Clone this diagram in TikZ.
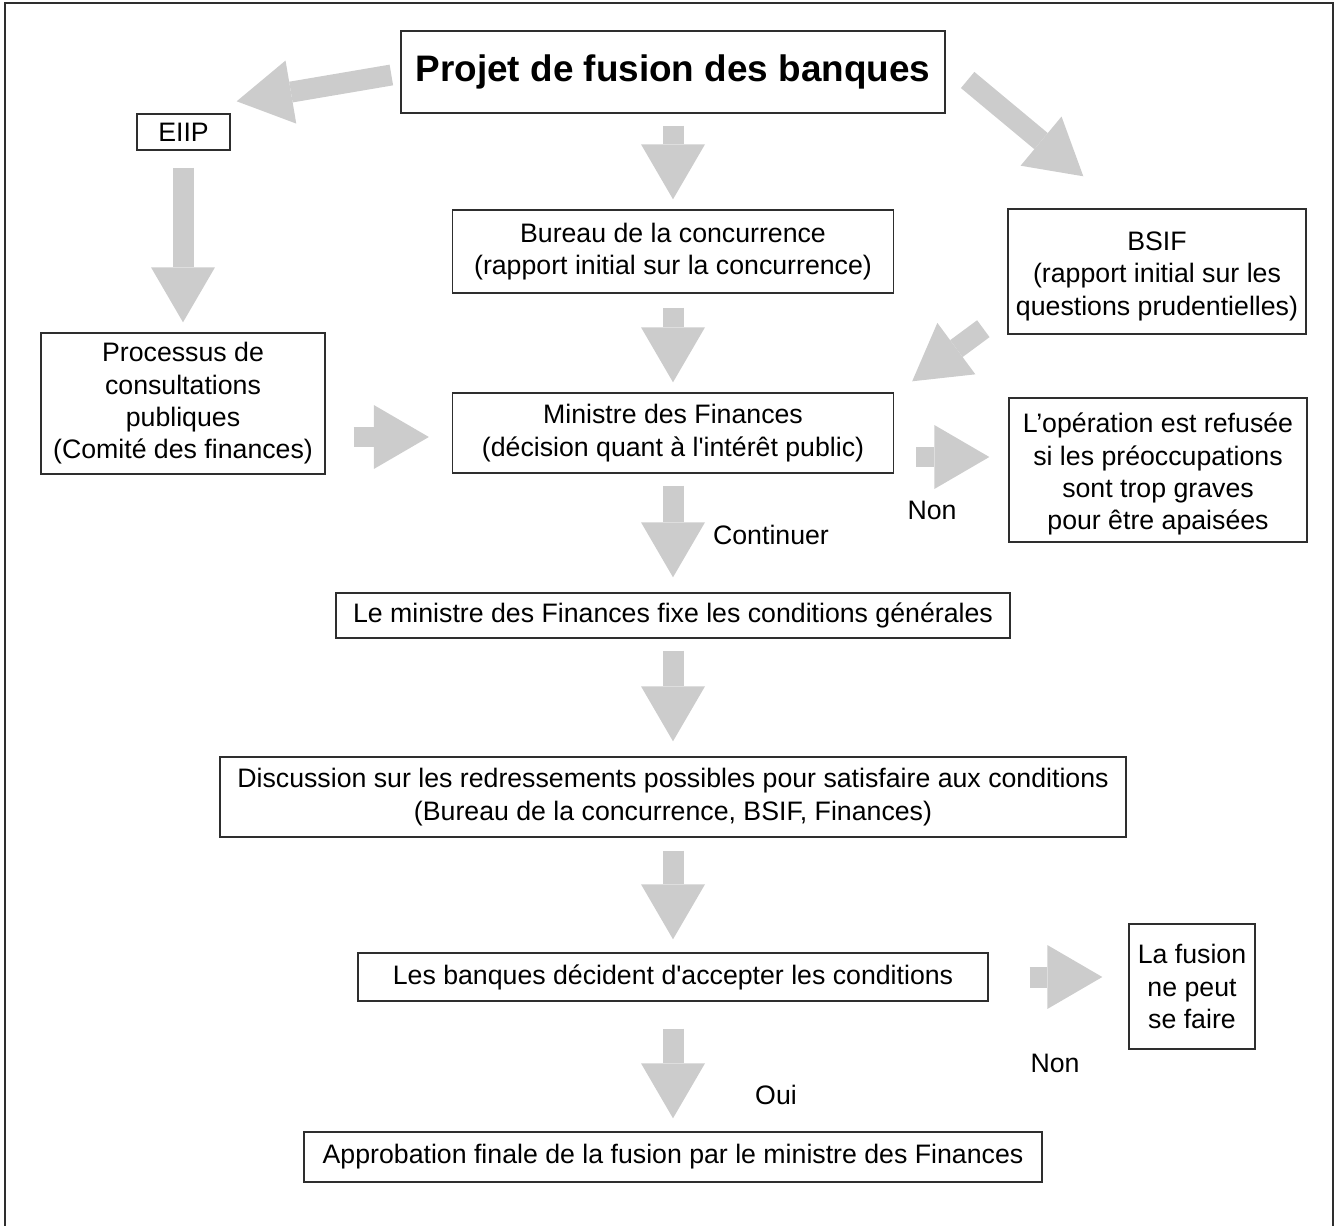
\documentclass[tikz,border=0pt]{standalone}
\usepackage{fontspec}
\setmainfont{Liberation Sans}
\usepackage{xcolor}
\definecolor{ink}{HTML}{000000}
\definecolor{boxline}{HTML}{2E2E2E}
\definecolor{arrowgray}{HTML}{CCCCCC}
\usetikzlibrary{positioning,arrows.meta,calc}
\tikzset{
  blk/.style={draw=boxline,line width=0.8pt,fill=white,align=center,inner sep=0pt,text=ink,
    font=\fontsize{15.2}{18.4}\selectfont},
  blkt/.style={blk,font=\fontsize{21}{25}\selectfont\bfseries},
  fat/.style={draw=arrowgray,line width=0.42cm,
    -{Triangle[length=1.1cm,width=1.28cm,line width=0pt]}},
  lbl/.style={font=\fontsize{15.2}{18.4}\selectfont,text=ink},
}

\begin{document}
\begin{tikzpicture}[x=0.02cm,y=-0.02cm]
  \useasboundingbox (0,0) rectangle (1339,1226);
  % outer frame
  \draw[boxline,line width=1.1pt] (5,1226) -- (5,3) -- (1333,3) -- (1333,1226);
  % boxes
  \node[blkt,minimum width=10.88cm,minimum height=1.64cm] (title) at (673,72) {Projet de fusion des banques};
  \node[blk,minimum width=1.86cm,minimum height=0.72cm] (eiip) at (183.5,132) {EIIP};
  \node[blk,minimum width=8.82cm,minimum height=1.66cm] (bureau) at (673,251.5) {Bureau de la concurrence\\(rapport initial sur la concurrence)};
  \node[blk,minimum width=5.96cm,minimum height=2.5cm] (bsif) at (1157,271.5) {\rule{0pt}{16pt}BSIF\\(rapport initial sur les\\questions prudentielles)};
  \node[blk,minimum width=5.68cm,minimum height=2.82cm] (proc) at (183,403.5) {Processus de\\consultations\\publiques\\(Comité des finances)};
  \node[blk,minimum width=8.82cm,minimum height=1.6cm] (mini) at (673,433) {Ministre des Finances\\(décision quant à l\textquotesingle intérêt public)};
  \node[blk,minimum width=5.96cm,minimum height=2.88cm] (refus) at (1158,470) {\rule{0pt}{16pt}L’opération est refusée\\si les préoccupations\\sont trop graves\\pour être apaisées};
  \node[blk,minimum width=13.48cm,minimum height=0.9cm] (fixe) at (673,615.5) {Le ministre des Finances fixe les conditions générales};
  \node[blk,minimum width=18.12cm,minimum height=1.6cm] (disc) at (673,797) {Discussion sur les redressements possibles pour satisfaire aux conditions\\(Bureau de la concurrence, BSIF, Finances)};
  \node[blk,minimum width=12.6cm,minimum height=0.96cm] (banq) at (673,977) {Les banques décident d\textquotesingle accepter les conditions};
  \node[blk,minimum width=2.52cm,minimum height=2.5cm] (lafus) at (1192,986.5) {La fusion\\ne peut\\se faire};
  \node[blk,minimum width=14.76cm,minimum height=1cm] (appr) at (673,1157) {Approbation finale de la fusion par le ministre des Finances};
  % fat arrows
  \draw[fat] ($(title.west)+(-9,3)$) -- ($(eiip.north east)+(6,-12)$);
  \draw[fat] ($(title.east)+(22,8)$) -- ($(bsif.north west)+(76,-32)$);
  \draw[fat,shorten <=.24cm,shorten >=.2cm] (title) -- (bureau);
  \draw[fat,shorten <=.34cm,shorten >=.2cm] (eiip.south -| proc) -- (proc.north);
  \draw[fat,shorten <=.28cm,shorten >=.2cm] (bureau) -- (mini);
  \draw[fat] ($(bsif.south west)+(-24,-6)$) -- ($(mini.north east)+(18,-11)$);
  \draw[fat] ($(proc.east |- mini.west)+(28,4)$) -- ($(mini.west)+(-23,4)$);
  \draw[fat] ($(mini.east)+(22,24)$) -- ($(refus.west)+(-19,-13)$);
  \draw[fat,shorten <=.24cm,shorten >=.3cm] (mini) -- (fixe);
  \draw[fat,shorten <=.24cm,shorten >=.3cm] (fixe) -- (disc);
  \draw[fat,shorten <=.26cm,shorten >=.26cm] (disc) -- (banq);
  \draw[fat] ($(banq.east)+(41,0)$) -- ($(lafus.west)+(-26,-9.5)$);
  \draw[fat,shorten <=.54cm,shorten >=.26cm] (banq) -- (appr);
  % labels
  \node[lbl] (non1) at (932,510) {Non};
  \node[lbl] (cont) at (771,535) {Continuer};
  \node[lbl] (non2) at (1055,1063) {Non};
  \node[lbl] (oui) at (776,1095) {Oui};
\end{tikzpicture}
\end{document}
